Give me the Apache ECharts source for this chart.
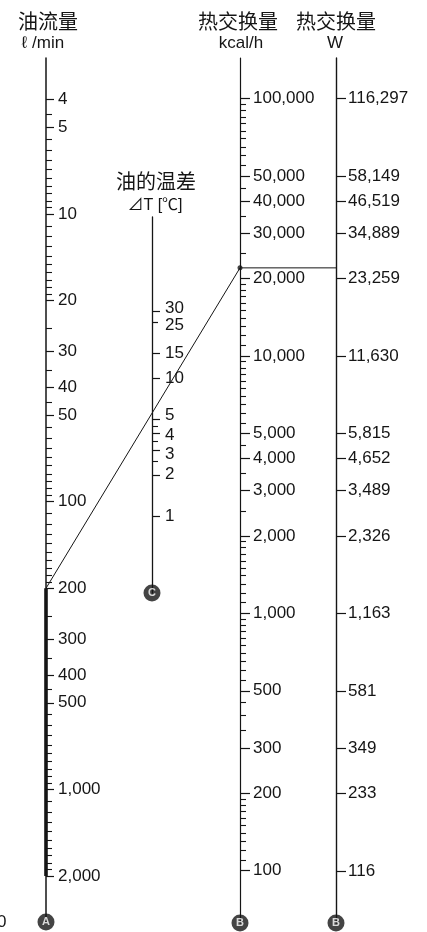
<!DOCTYPE html>
<html>
<head>
<meta charset="utf-8">
<script src="https://cdn.jsdelivr.net/npm/echarts@6/dist/echarts.min.js"></script>
<style>
  html, body { margin: 0; padding: 0; background: #fff; }
  #chart { width: 427px; height: 932px; }
</style>
</head>
<body>
<div id="chart"></div>
<script>
// ---- Scale graduations ----
// Oil flow (ℓ/min)
const flowLabels = [4, 5, 10, 20, 30, 40, 50, 100, 200, 300, 400, 500, 1000, 2000];
const flowMinorTicks = [4.5, 5.5, 6, 6.5, 7, 7.5, 8, 8.5, 9, 9.5,
  11, 12, 13, 14, 15, 16, 17, 18, 19, 25, 35, 45,
  55, 60, 65, 70, 75, 80, 85, 90, 95,
  110, 120, 130, 140, 150, 160, 170, 180, 190, 250, 350, 450,
  550, 600, 650, 700, 750, 800, 850, 900, 950,
  1100, 1200, 1300, 1400, 1500, 1600, 1700, 1800, 1900];
// Oil temperature difference ΔT (℃)
const deltaTLabels = [1, 2, 3, 4, 5, 10, 15, 30];
const deltaTSideLabels = [25];
const deltaTMinorTicks = [2.5, 3.5, 4.5];
// Heat exchange (kcal/h)
const kcalLabels = [100, 200, 300, 500, 1000, 2000, 3000, 4000, 5000,
  10000, 20000, 30000, 40000, 50000, 100000];
const kcalMinorTicks = [110, 120, 130, 140, 150, 160, 170, 180, 190, 350, 400, 450,
  550, 600, 650, 700, 750, 800, 850, 900, 950,
  1100, 1200, 1300, 1400, 1500, 1600, 1700, 1800, 1900, 2500, 3500, 4500,
  5500, 6000, 6500, 7000, 7500, 8000, 8500, 9000, 9500,
  11000, 12000, 13000, 14000, 15000, 16000, 17000, 18000, 19000, 25000, 35000, 45000,
  55000, 60000, 65000, 70000, 75000, 80000, 85000, 90000, 95000];
// Heat exchange (W)
const wattLabels = [116, 233, 349, 581, 1163, 2326, 3489, 4652, 5815,
  11630, 23259, 34889, 46519, 58149, 116297];
const WATT_PER_KCALH = 1.163;

// Worked example
const exampleFlow = 200;      // ℓ/min
const exampleHeat = 22000;    // kcal/h
// Highlighted working range of the flow scale
const flowRange = [200, 2000];

// ---- Scale extents (log axes) ----
const flowExtent = [2.87, 2891];
const deltaTExtent = [0.2808, 144.4];
const kcalExtent = [62.6, 143880];
const wattExtent = [kcalExtent[0] * WATT_PER_KCALH, kcalExtent[1] * WATT_PER_KCALH];

const INK = '#151515';
const LATIN = "'Liberation Sans', Arial, sans-serif";
const CJK = "'Noto Sans CJK SC', 'Noto Sans CJK JP', sans-serif";

function withCommas(v) {
  return String(Math.round(v)).replace(/\B(?=(\d{3})+(?!\d))/g, ',');
}

// Crowded ΔT graduations get their labels eased apart a little
const deltaTNudge = { 30: 'up3', 25: 'down3', 5: 'up4', 4: 'down2', 3: 'down4' };
function deltaTFormatter(v) {
  const key = Math.round(v * 10) / 10;
  const txt = withCommas(v);
  return deltaTNudge[key] ? `{${deltaTNudge[key]}|${txt}}` : txt;
}
function nudgeStyle(padding) {
  return { padding, fontSize: 17, fontFamily: LATIN, color: INK };
}
const nudgeRich = {
  up3: nudgeStyle([0, 0, 6, 0]),
  up4: nudgeStyle([0, 0, 8, 0]),
  down2: nudgeStyle([4, 0, 0, 0]),
  down3: nudgeStyle([6, 0, 0, 0]),
  down4: nudgeStyle([8, 0, 0, 0])
};

// Each scale lives in its own narrow grid; extra graduations use an overlaid twin grid.
const grids = [
  { left: 46, top: 58, width: 90, height: 864 },   // 0 flow
  { left: 46, top: 58, width: 90, height: 864 },   // 1 flow minor
  { left: 152, top: 217, width: 60, height: 376 }, // 2 ΔT
  { left: 152, top: 217, width: 60, height: 376 }, // 3 ΔT minor
  { left: 240, top: 58, width: 90, height: 865 },  // 4 kcal/h
  { left: 240, top: 58, width: 90, height: 865 },  // 5 kcal/h minor
  { left: 336, top: 58, width: 90, height: 865 },  // 6 W
  { left: 152, top: 217, width: 60, height: 376 }  // 7 ΔT side label
];

function mainAxis(gridIndex, extent, labels, tickLen, margin, lineWidth, opts) {
  opts = opts || {};
  return {
    type: 'log', logBase: 10, gridIndex, position: 'left', inverse: !!opts.inverse,
    min: extent[0], max: extent[1],
    axisLine: { show: opts.line !== false, onZero: false, lineStyle: { color: INK, width: lineWidth } },
    axisTick: { show: true, inside: true, length: tickLen, customValues: labels,
      lineStyle: { color: INK, width: 1.2 } },
    axisLabel: { show: true, inside: true, margin, customValues: labels,
      hideOverlap: false, showMinLabel: true, showMaxLabel: true,
      formatter: opts.formatter || (v => withCommas(v)),
      rich: opts.rich,
      color: INK, fontSize: 17, fontFamily: LATIN },
    splitLine: { show: false }, minorTick: { show: false }
  };
}
function minorAxis(gridIndex, extent, ticks, tickLen, inverse) {
  return {
    type: 'log', logBase: 10, gridIndex, position: 'left', inverse: !!inverse,
    min: extent[0], max: extent[1],
    axisLine: { show: false, onZero: false },
    axisTick: { show: true, inside: true, length: tickLen, customValues: ticks,
      lineStyle: { color: INK, width: 1.1 } },
    axisLabel: { show: false },
    splitLine: { show: false }
  };
}

const yAxis = [
  mainAxis(0, flowExtent, flowLabels, 8, 12, 1.5, { inverse: true }),
  minorAxis(1, flowExtent, flowMinorTicks, 6, true),
  mainAxis(2, deltaTExtent, deltaTLabels, 8, 13, 1.3, { formatter: deltaTFormatter, rich: nudgeRich }),
  minorAxis(3, deltaTExtent, deltaTMinorTicks, 6),
  mainAxis(4, kcalExtent, kcalLabels, 10, 13, 1.2),
  minorAxis(5, kcalExtent, kcalMinorTicks, 6),
  mainAxis(6, wattExtent, wattLabels, 10, 12, 1.4),
  mainAxis(7, deltaTExtent, deltaTSideLabels, 6, 13, 1.3,
    { line: false, formatter: deltaTFormatter, rich: nudgeRich })
];
const xAxis = grids.map((g, i) => ({ type: 'value', gridIndex: i, min: 0, max: 1, show: false }));

function scaleBadge(gridIndex, value, letter) {
  return {
    type: 'scatter', xAxisIndex: gridIndex, yAxisIndex: gridIndex, clip: false, silent: true,
    data: [[0, value]], symbol: 'circle', symbolSize: 17, z: 5,
    itemStyle: { color: INK },
    label: { show: true, position: 'inside', formatter: letter, color: '#fff',
      fontSize: 11, fontWeight: 'bold', fontFamily: LATIN }
  };
}

const series = [
  {
    type: 'line', xAxisIndex: 0, yAxisIndex: 0, silent: true, symbol: 'none',
    data: flowRange.map(v => [0, v]),
    lineStyle: { color: INK, width: 3.6, cap: 'butt' }, z: 3
  },
  {
    type: 'scatter', xAxisIndex: 4, yAxisIndex: 4, silent: true, clip: false,
    data: [[0, exampleHeat]], symbolSize: 5, itemStyle: { color: INK }, z: 6
  },
  scaleBadge(0, flowExtent[1], 'A'),
  scaleBadge(2, deltaTExtent[0], 'C'),
  scaleBadge(4, kcalExtent[0], 'B'),
  scaleBadge(6, wattExtent[0], 'B')
];

function headerText(x, y, text, size, family) {
  return { type: 'text', x, y, silent: true,
    style: { text, fill: INK, font: `${size}px ${family}`, align: 'center', verticalAlign: 'middle' } };
}
const headers = [
  headerText(48, 21, '油流量', 20, CJK),
  headerText(43, 43, 'ℓ /min', 17, LATIN),
  headerText(238, 21, '热交换量', 20, CJK),
  headerText(241, 43, 'kcal/h', 17, LATIN),
  headerText(336, 21, '热交换量', 20, CJK),
  headerText(335, 43, 'W', 17, LATIN),
  headerText(156, 181, '油的温差', 20, CJK),
  headerText(155, 206, '⊿T [℃]', 16, LATIN + ", " + CJK),
  { type: 'text', x: -3, y: 922, silent: true,
    style: { text: '0', fill: INK, font: `17px ${LATIN}`, align: 'left', verticalAlign: 'middle' } }
];

const chart = echarts.init(document.getElementById('chart'), null, { renderer: 'canvas' });
chart.setOption({
  animation: false,
  backgroundColor: '#fff',
  grid: grids,
  xAxis,
  yAxis,
  series,
  graphic: headers
});

// Index line from the flow scale to the kcal/h scale, carried across to the W scale
const pFlow = chart.convertToPixel({ gridIndex: 0 }, [0, exampleFlow]);
const pHeat = chart.convertToPixel({ gridIndex: 4 }, [0, exampleHeat]);
const pWatt = chart.convertToPixel({ gridIndex: 6 }, [0, exampleHeat * WATT_PER_KCALH]);
chart.setOption({
  graphic: headers.concat([
    { type: 'line', silent: true, z: 2,
      shape: { x1: pFlow[0], y1: pFlow[1], x2: pHeat[0], y2: pHeat[1] },
      style: { stroke: INK, lineWidth: 1 } },
    { type: 'line', silent: true, z: 2,
      shape: { x1: pHeat[0], y1: pHeat[1], x2: pWatt[0], y2: pWatt[1] },
      style: { stroke: INK, lineWidth: 1 } }
  ])
});
</script>
</body>
</html>
